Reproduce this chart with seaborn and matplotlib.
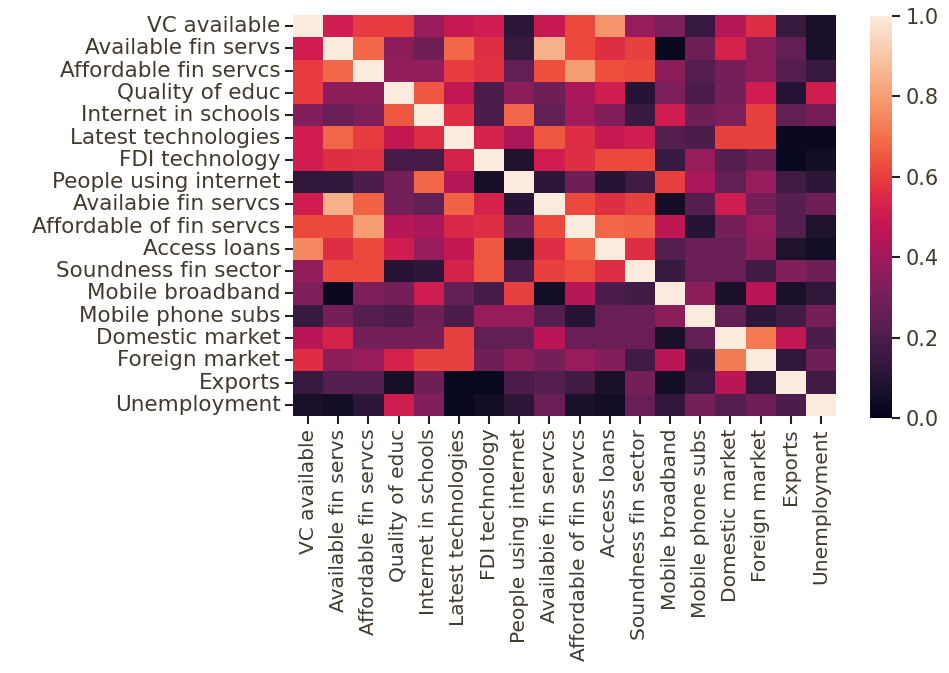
import numpy as np
import pandas as pd
import matplotlib
matplotlib.use("Agg")
import matplotlib.pyplot as plt
import seaborn as sns

labels = ["VC available", "Available fin servs", "Affordable fin servcs", "Quality of educ",
          "Internet in schools", "Latest technologies", "FDI technology", "People using internet",
          "Availabie fin servcs", "Affordable of fin servcs", "Access loans", "Soundness fin sector",
          "Mobile broadband", "Mobile phone subs", "Domestic market", "Foreign market",
          "Exports", "Unemployment"]

row_vc          = [1.00, 0.51, 0.59, 0.59, 0.38, 0.49, 0.51, 0.12, 0.49, 0.62, 0.78, 0.38, 0.32, 0.15, 0.45, 0.56, 0.15, 0.07]
row_avail       = [0.51, 1.00, 0.68, 0.35, 0.28, 0.68, 0.56, 0.15, 0.85, 0.62, 0.56, 0.60, 0.02, 0.28, 0.53, 0.35, 0.25, 0.07]
row_afford      = [0.59, 0.68, 1.00, 0.37, 0.37, 0.59, 0.57, 0.25, 0.63, 0.80, 0.63, 0.62, 0.35, 0.22, 0.30, 0.35, 0.22, 0.15]
row_educ        = [0.59, 0.35, 0.35, 1.00, 0.65, 0.48, 0.20, 0.35, 0.28, 0.42, 0.51, 0.10, 0.32, 0.20, 0.30, 0.51, 0.10, 0.51]
row_schools     = [0.33, 0.27, 0.32, 0.65, 1.00, 0.56, 0.20, 0.68, 0.25, 0.40, 0.33, 0.15, 0.51, 0.28, 0.32, 0.60, 0.25, 0.30]
row_latest      = [0.51, 0.68, 0.59, 0.48, 0.56, 1.00, 0.53, 0.42, 0.65, 0.56, 0.49, 0.51, 0.22, 0.20, 0.60, 0.60, 0.03, 0.03]
row_fdi         = [0.51, 0.56, 0.57, 0.18, 0.18, 0.53, 1.00, 0.08, 0.51, 0.56, 0.62, 0.62, 0.15, 0.38, 0.22, 0.28, 0.02, 0.05]
row_people      = [0.13, 0.13, 0.20, 0.30, 0.68, 0.45, 0.06, 1.00, 0.12, 0.28, 0.10, 0.17, 0.60, 0.42, 0.25, 0.38, 0.17, 0.12]
row_availb      = [0.51, 0.85, 0.67, 0.30, 0.25, 0.67, 0.53, 0.10, 1.00, 0.62, 0.56, 0.60, 0.05, 0.22, 0.51, 0.30, 0.22, 0.28]
row_afford_of   = [0.62, 0.62, 0.80, 0.45, 0.42, 0.54, 0.56, 0.30, 0.62, 1.00, 0.68, 0.67, 0.47, 0.10, 0.30, 0.38, 0.22, 0.08]
row_loans       = [0.75, 0.56, 0.62, 0.51, 0.38, 0.48, 0.65, 0.07, 0.56, 0.67, 1.00, 0.56, 0.22, 0.27, 0.27, 0.35, 0.08, 0.05]
row_soundness   = [0.37, 0.62, 0.62, 0.10, 0.12, 0.53, 0.65, 0.20, 0.60, 0.63, 0.56, 1.00, 0.15, 0.27, 0.27, 0.17, 0.33, 0.28]
row_broadband   = [0.32, 0.03, 0.32, 0.30, 0.51, 0.25, 0.18, 0.60, 0.05, 0.45, 0.20, 0.17, 1.00, 0.35, 0.07, 0.46, 0.07, 0.13]
row_phone       = [0.15, 0.30, 0.22, 0.20, 0.28, 0.20, 0.38, 0.38, 0.22, 0.10, 0.27, 0.27, 0.35, 1.00, 0.25, 0.12, 0.17, 0.30]
row_domestic    = [0.46, 0.53, 0.30, 0.30, 0.30, 0.60, 0.25, 0.25, 0.46, 0.27, 0.27, 0.27, 0.07, 0.25, 1.00, 0.72, 0.48, 0.20]
row_foreign     = [0.56, 0.35, 0.38, 0.53, 0.60, 0.60, 0.28, 0.35, 0.30, 0.38, 0.33, 0.17, 0.46, 0.12, 0.72, 1.00, 0.13, 0.28]
row_exports     = [0.15, 0.22, 0.22, 0.06, 0.28, 0.02, 0.02, 0.20, 0.22, 0.17, 0.07, 0.30, 0.05, 0.15, 0.46, 0.13, 1.00, 0.17]
row_unemp       = [0.07, 0.05, 0.12, 0.51, 0.33, 0.02, 0.05, 0.12, 0.27, 0.07, 0.05, 0.27, 0.13, 0.30, 0.22, 0.28, 0.20, 1.00]

rows = [row_vc, row_avail, row_afford, row_educ, row_schools, row_latest, row_fdi, row_people,
        row_availb, row_afford_of, row_loans, row_soundness, row_broadband, row_phone,
        row_domestic, row_foreign, row_exports, row_unemp]

cbar_ticks = [0.0, 0.2, 0.4, 0.6, 0.8, 1.0]
cbar_ticklabels = ["0.0", "0.2", "0.4", "0.6", "0.8", "1.0"]

df = pd.DataFrame(np.array(rows), index=labels, columns=labels)

sns.set_theme(style="white")
text_color = "#433a2e"
plt.rcParams["font.family"] = ["DejaVu Sans"]
plt.rcParams["text.color"] = text_color
plt.rcParams["xtick.color"] = text_color
plt.rcParams["ytick.color"] = text_color

W, H = 949, 673
fig = plt.figure(figsize=(W / 100, H / 100), dpi=100)
ax = fig.add_axes([293 / W, 1 - 416 / H, (836 - 293) / W, (416 - 15) / H])
cax = fig.add_axes([870 / W, 1 - 418 / H, 22 / W, (418 - 16) / H])

sns.heatmap(df, ax=ax, cbar_ax=cax, cmap="rocket", vmin=0, vmax=1,
            xticklabels=True, yticklabels=True)

ax.tick_params(axis="both", which="major", length=6, width=1.5, pad=3,
               bottom=True, left=True, color="#222222")
ax.set_xticklabels(labels, rotation=90, fontsize=14.5)
ax.set_yticklabels(labels, rotation=0, fontsize=15.5)
cax.tick_params(length=6, width=1.5, color="#222222")
cax.set_yticks(cbar_ticks)
cax.set_yticklabels(cbar_ticklabels, fontsize=15)

fig.savefig("out.png", dpi=100)
